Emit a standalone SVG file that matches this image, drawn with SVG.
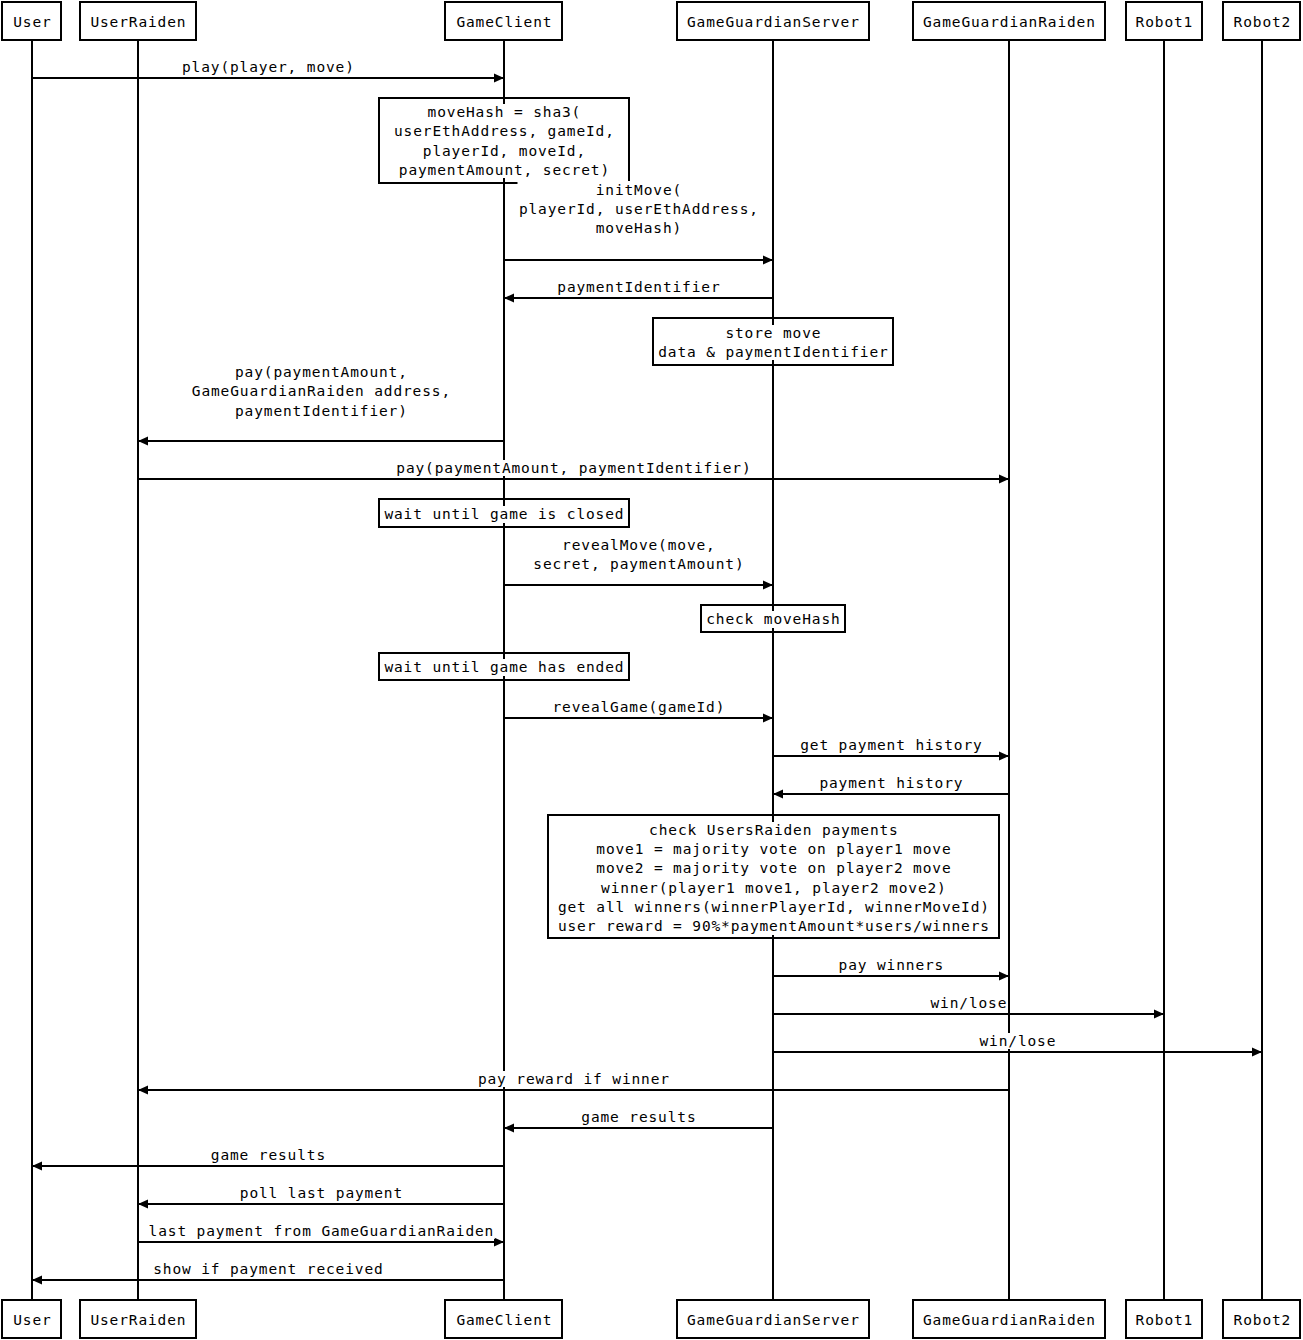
<svg xmlns="http://www.w3.org/2000/svg" width="1303" height="1340" viewBox="0 0 1303 1340">
<style>
text{font-family:"DejaVu Sans Mono","Liberation Mono",monospace;font-size:14.5px;letter-spacing:0.87px;text-anchor:middle;fill:#000}
.box{fill:#fff;stroke:#000;stroke-width:2}
.note{fill:none;stroke:#000;stroke-width:2}
.life{stroke:#000;stroke-width:2}
.bg{fill:#fff;stroke:none}
.msg{stroke:#000;stroke-width:2;fill:none;marker-end:url(#ah)}
</style>
<defs>
<marker id="ah" markerUnits="userSpaceOnUse" markerWidth="12" markerHeight="12" viewBox="0 0 12 12" refX="11" refY="6" orient="auto">
<path d="M1,1.5 L11,6 L1,10.5 Z" fill="#000"/>
</marker>
</defs>
<rect width="1303" height="1340" fill="#fff"/>

<g id="actor-User">
<line class="life" x1="32" y1="40" x2="32" y2="1300"/>
<rect class="box" x="2" y="2" width="59" height="38"/><text x="32.4" y="26.5">User</text>
<rect class="box" x="2" y="1300" width="59" height="38"/><text x="32.4" y="1324.5">User</text>
</g>
<g id="actor-UserRaiden">
<line class="life" x1="138" y1="40" x2="138" y2="1300"/>
<rect class="box" x="80" y="2" width="116" height="38"/><text x="138.4" y="26.5">UserRaiden</text>
<rect class="box" x="80" y="1300" width="116" height="38"/><text x="138.4" y="1324.5">UserRaiden</text>
</g>
<g id="actor-GameClient">
<line class="life" x1="504" y1="40" x2="504" y2="1300"/>
<rect class="box" x="445" y="2" width="117" height="38"/><text x="504.4" y="26.5">GameClient</text>
<rect class="box" x="445" y="1300" width="117" height="38"/><text x="504.4" y="1324.5">GameClient</text>
</g>
<g id="actor-GameGuardianServer">
<line class="life" x1="773" y1="40" x2="773" y2="1300"/>
<rect class="box" x="677" y="2" width="192" height="38"/><text x="773.4" y="26.5">GameGuardianServer</text>
<rect class="box" x="677" y="1300" width="192" height="38"/><text x="773.4" y="1324.5">GameGuardianServer</text>
</g>
<g id="actor-GameGuardianRaiden">
<line class="life" x1="1009" y1="40" x2="1009" y2="1300"/>
<rect class="box" x="913" y="2" width="192" height="38"/><text x="1009.4" y="26.5">GameGuardianRaiden</text>
<rect class="box" x="913" y="1300" width="192" height="38"/><text x="1009.4" y="1324.5">GameGuardianRaiden</text>
</g>
<g id="actor-Robot1">
<line class="life" x1="1164" y1="40" x2="1164" y2="1300"/>
<rect class="box" x="1126" y="2" width="76" height="38"/><text x="1164.4" y="26.5">Robot1</text>
<rect class="box" x="1126" y="1300" width="76" height="38"/><text x="1164.4" y="1324.5">Robot1</text>
</g>
<g id="actor-Robot2">
<line class="life" x1="1262" y1="40" x2="1262" y2="1300"/>
<rect class="box" x="1223" y="2" width="77" height="38"/><text x="1262.4" y="26.5">Robot2</text>
<rect class="box" x="1223" y="1300" width="77" height="38"/><text x="1262.4" y="1324.5">Robot2</text>
</g>

<g id="note-moveHash">
<rect class="note" x="379" y="98" width="250" height="85"/>
<rect class="bg" x="392.6" y="104" width="222.8" height="74"/>
<text x="504.4" y="116.5">moveHash = sha3(</text>
<text x="504.4" y="135.5">userEthAddress, gameId,</text>
<text x="504.4" y="155.5">playerId, moveId,</text>
<text x="504.4" y="174.5">paymentAmount, secret)</text>
</g>
<g id="note-storeMove">
<rect class="note" x="653" y="318" width="240" height="47"/>
<rect class="bg" x="656.8" y="325" width="232.4" height="35"/>
<text x="773.4" y="337.5">store move</text>
<text x="773.4" y="356.5">data &amp; paymentIdentifier</text>
</g>
<g id="note-waitClosed">
<rect class="note" x="379" y="499" width="250" height="28"/>
<rect class="bg" x="383" y="506" width="242" height="17"/>
<text x="504.4" y="518.5">wait until game is closed</text>
</g>
<g id="note-checkMoveHash">
<rect class="note" x="701" y="605" width="144" height="27"/>
<rect class="bg" x="704.8" y="611" width="136.4" height="17"/>
<text x="773.4" y="623.5">check moveHash</text>
</g>
<g id="note-waitEnded">
<rect class="note" x="379" y="653" width="250" height="27"/>
<rect class="bg" x="383" y="659" width="242" height="17"/>
<text x="504.4" y="671.5">wait until game has ended</text>
</g>
<g id="note-checkPayments">
<rect class="note" x="548" y="815" width="451" height="123"/>
<rect class="bg" x="556.5" y="822" width="434" height="113"/>
<text x="773.9" y="834.5">check UsersRaiden payments</text>
<text x="773.9" y="853.5">move1 = majority vote on player1 move</text>
<text x="773.9" y="872.5">move2 = majority vote on player2 move</text>
<text x="773.9" y="892.5">winner(player1 move1, player2 move2)</text>
<text x="773.9" y="911.5">get all winners(winnerPlayerId, winnerMoveId)</text>
<text x="773.9" y="930.5">user reward = 90%*paymentAmount*users/winners</text>
</g>

<g id="connectors">
<line class="msg" x1="32" y1="78" x2="504" y2="78"/>
<rect class="bg" x="180.6" y="59" width="174.8" height="16"/>
<text x="268.4" y="71.5">play(player, move)</text>

<line class="msg" x1="504" y1="260" x2="773" y2="260"/>
<rect class="bg" x="517.5" y="181" width="242" height="55"/>
<text x="638.9" y="194.5">initMove(</text>
<text x="638.9" y="213.5">playerId, userEthAddress,</text>
<text x="638.9" y="232.5">moveHash)</text>

<line class="msg" x1="773" y1="298" x2="504" y2="298"/>
<rect class="bg" x="555.9" y="279" width="165.2" height="16"/>
<text x="638.9" y="291.5">paymentIdentifier</text>

<line class="msg" x1="504" y1="441" x2="138" y2="441"/>
<rect class="bg" x="190.4" y="364" width="261.2" height="55"/>
<text x="321.4" y="376.5">pay(paymentAmount,</text>
<text x="321.4" y="395.5">GameGuardianRaiden address,</text>
<text x="321.4" y="415.5">paymentIdentifier)</text>

<line class="msg" x1="138" y1="479" x2="1009" y2="479"/>
<rect class="bg" x="394.9" y="460" width="357.2" height="16"/>
<text x="573.9" y="472.5">pay(paymentAmount, paymentIdentifier)</text>

<line class="msg" x1="504" y1="585" x2="773" y2="585"/>
<rect class="bg" x="531.9" y="536" width="213.2" height="36"/>
<text x="638.9" y="549.5">revealMove(move,</text>
<text x="638.9" y="568.5">secret, paymentAmount)</text>

<line class="msg" x1="504" y1="718" x2="773" y2="718"/>
<rect class="bg" x="551.1" y="699" width="174.8" height="16"/>
<text x="638.9" y="711.5">revealGame(gameId)</text>

<line class="msg" x1="773" y1="756" x2="1009" y2="756"/>
<rect class="bg" x="798.8" y="737" width="184.4" height="16"/>
<text x="891.4" y="749.5">get payment history</text>

<line class="msg" x1="1009" y1="794" x2="773" y2="794"/>
<rect class="bg" x="818" y="775" width="146" height="16"/>
<text x="891.4" y="787.5">payment history</text>

<line class="msg" x1="773" y1="976" x2="1009" y2="976"/>
<rect class="bg" x="837.2" y="957" width="107.6" height="16"/>
<text x="891.4" y="969.5">pay winners</text>

<line class="msg" x1="773" y1="1014" x2="1164" y2="1014"/>
<rect class="bg" x="929.1" y="995" width="78.8" height="16"/>
<text x="968.9" y="1007.5">win/lose</text>

<line class="msg" x1="773" y1="1052" x2="1262" y2="1052"/>
<rect class="bg" x="978.1" y="1033" width="78.8" height="16"/>
<text x="1017.9" y="1045.5">win/lose</text>

<line class="msg" x1="1009" y1="1090" x2="138" y2="1090"/>
<rect class="bg" x="476.5" y="1071" width="194" height="16"/>
<text x="573.9" y="1083.5">pay reward if winner</text>

<line class="msg" x1="773" y1="1128" x2="504" y2="1128"/>
<rect class="bg" x="579.9" y="1109" width="117.2" height="16"/>
<text x="638.9" y="1121.5">game results</text>

<line class="msg" x1="504" y1="1166" x2="32" y2="1166"/>
<rect class="bg" x="209.4" y="1147" width="117.2" height="16"/>
<text x="268.4" y="1159.5">game results</text>

<line class="msg" x1="504" y1="1204" x2="138" y2="1204"/>
<rect class="bg" x="238.4" y="1185" width="165.2" height="16"/>
<text x="321.4" y="1197.5">poll last payment</text>

<line class="msg" x1="138" y1="1242" x2="504" y2="1242"/>
<rect class="bg" x="147.2" y="1223" width="347.6" height="16"/>
<text x="321.4" y="1235.5">last payment from GameGuardianRaiden</text>

<line class="msg" x1="504" y1="1280" x2="32" y2="1280"/>
<rect class="bg" x="151.8" y="1261" width="232.4" height="16"/>
<text x="268.4" y="1273.5">show if payment received</text>
</g>
</svg>
